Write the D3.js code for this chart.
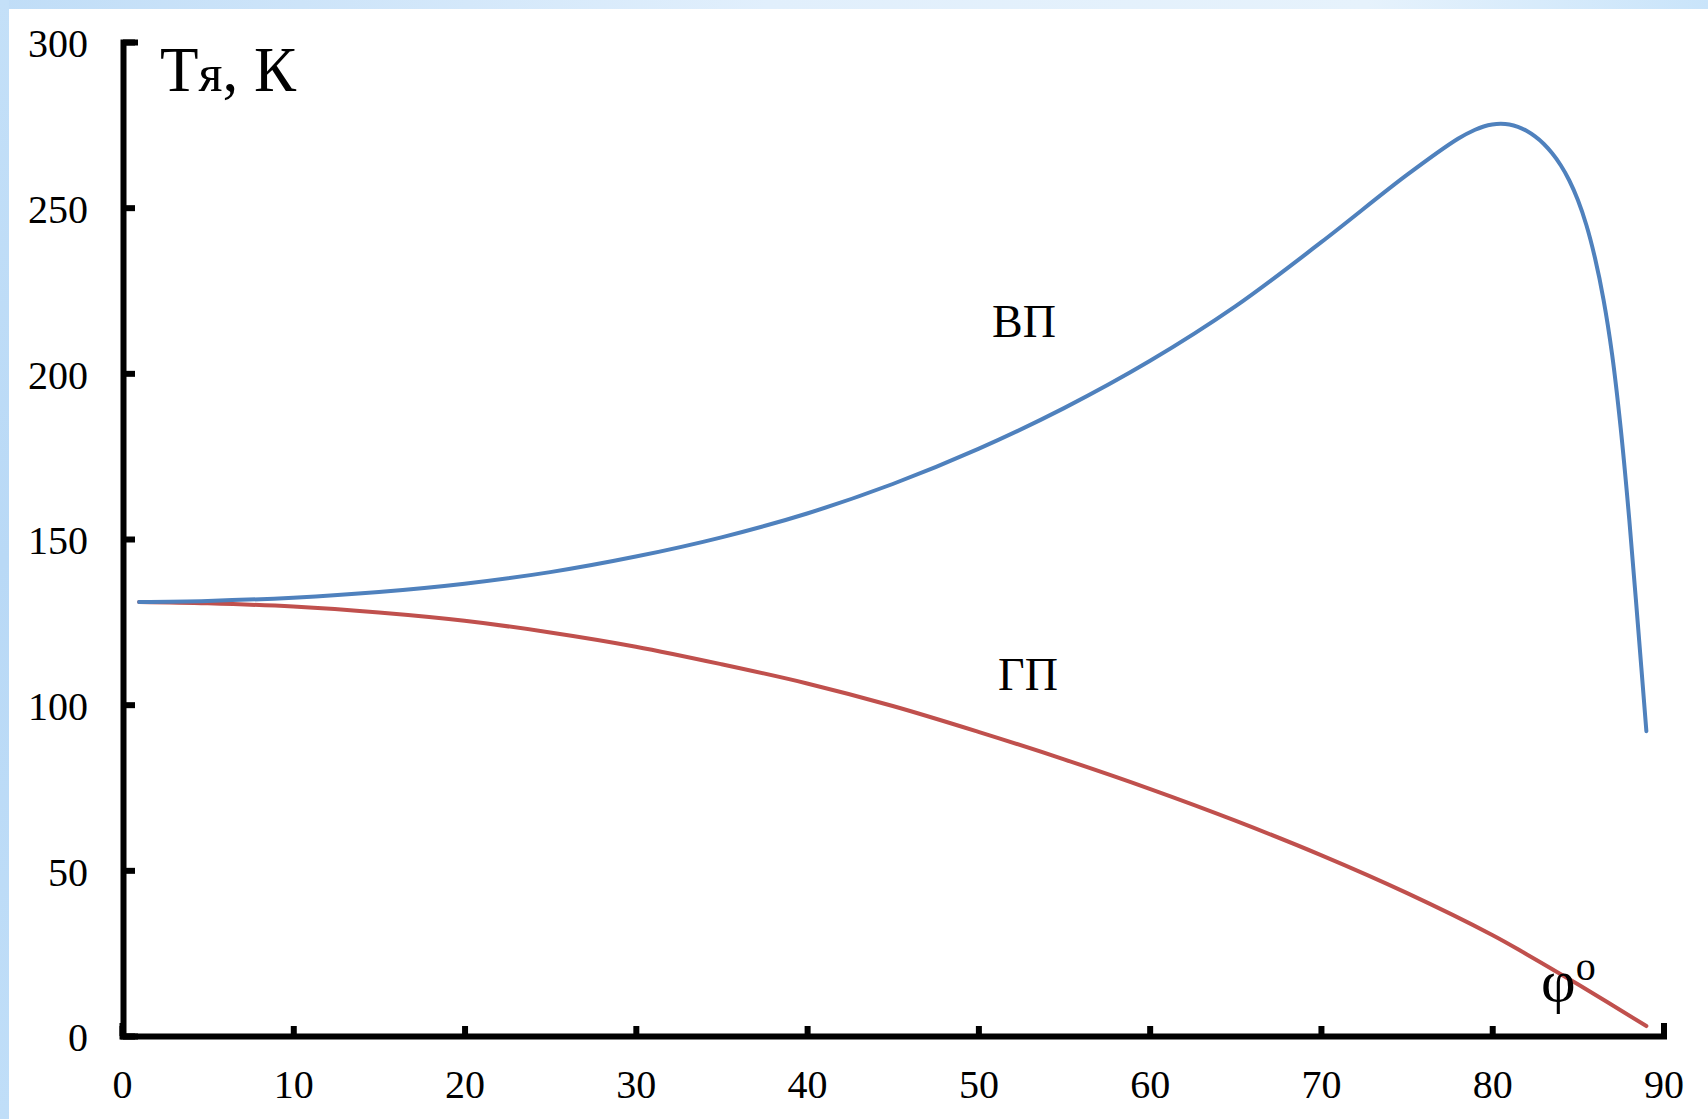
<!DOCTYPE html>
<html>
<head>
<meta charset="utf-8">
<script src="https://cdn.jsdelivr.net/npm/d3@7/dist/d3.min.js"></script>
<style>
  html, body { margin: 0; padding: 0; background: #ffffff; }
  svg { display: block; }
</style>
</head>
<body>
<script>
// Angle φ (degrees) and the two temperature curves Тя (K)
const anglesVP = [1, 5, 10, 15, 20, 25, 30, 35, 40, 45, 50, 55, 60, 65, 70, 75, 78, 79, 79.5, 80, 80.5, 81, 81.5, 82, 82.5, 83, 83.5, 84, 84.5, 85, 85.5, 86, 86.5, 87, 87.5, 88, 88.5, 89];
const tempVP   = [131, 131.3, 132.3, 134, 136.5, 140, 144.7, 150.5, 157.7, 166.6, 177.2, 189.5, 203.7, 220.2, 239.5, 259.8, 270.8, 273.5, 274.5, 275.1, 275.3, 275.1, 274.4, 273.2, 271.5, 269.3, 266.4, 262.8, 258.2, 252.3, 244.7, 234.8, 222.2, 205.7, 183.5, 156, 124.5, 92];

const anglesGP = [1, 5, 10, 15, 20, 25, 30, 35, 40, 45, 50, 55, 60, 65, 70, 75, 80, 82, 85, 89];
const tempGP   = [131, 130.6, 129.6, 127.8, 125.3, 121.8, 117.5, 112.2, 106.4, 99.6, 91.8, 83.5, 74.6, 65, 54.6, 43.2, 30.5, 24.7, 15.6, 3];

const xTicks = [0, 10, 20, 30, 40, 50, 60, 70, 80, 90];
const yTicks = [0, 50, 100, 150, 200, 250, 300];

const W = 1708, H = 1119;
const FONT = "'Liberation Serif', 'Times New Roman', serif";

const svg = d3.select("body").append("svg")
  .attr("width", W).attr("height", H);

// light blue frame along the top and left edges
const defs = svg.append("defs");
const gTop = defs.append("linearGradient").attr("id", "frameTop")
  .attr("x1", "0%").attr("x2", "100%").attr("y1", "0%").attr("y2", "0%");
gTop.append("stop").attr("offset", "0%").attr("stop-color", "#c0ddf7");
gTop.append("stop").attr("offset", "45%").attr("stop-color", "#e1effc");
gTop.append("stop").attr("offset", "80%").attr("stop-color", "#e6f2fc");
gTop.append("stop").attr("offset", "100%").attr("stop-color", "#c9e4fa");
const gLeft = defs.append("linearGradient").attr("id", "frameLeft")
  .attr("x1", "0%").attr("x2", "0%").attr("y1", "0%").attr("y2", "100%");
gLeft.append("stop").attr("offset", "0%").attr("stop-color", "#c4e0f8");
gLeft.append("stop").attr("offset", "50%").attr("stop-color", "#b9d9f6");
gLeft.append("stop").attr("offset", "100%").attr("stop-color", "#c0def8");

svg.append("rect").attr("x", 0).attr("y", 0).attr("width", W).attr("height", 9)
  .attr("fill", "url(#frameTop)");
svg.append("rect").attr("x", 0).attr("y", 0).attr("width", 9).attr("height", H)
  .attr("fill", "url(#frameLeft)");

const x = d3.scaleLinear().domain([0, 90]).range([122, 1663.5]);
const y = d3.scaleLinear().domain([0, 300]).range([1036, 42]);

// axes with inward ticks
const xAxis = d3.axisBottom(x).tickValues(xTicks).tickFormat(d3.format("d"))
  .tickSizeInner(-10).tickSizeOuter(-10).tickPadding(34);
const yAxis = d3.axisLeft(y).tickValues(yTicks).tickFormat(d3.format("d"))
  .tickSizeInner(-12).tickSizeOuter(-12).tickPadding(35);

function styleAxis(g) {
  g.select(".domain").attr("stroke", "#000").attr("stroke-width", 6)
    .attr("stroke-linecap", "square");
  g.selectAll(".tick line").attr("stroke", "#000").attr("stroke-width", 6);
  g.selectAll(".tick text").attr("fill", "#000")
    .style("font-family", FONT).style("font-size", "40px");
}

const gx = svg.append("g").attr("transform", `translate(0,${y(0)})`).call(xAxis);
styleAxis(gx);
gx.selectAll(".tick text").attr("dy", "0.71em");

const gy = svg.append("g").attr("transform", `translate(${x(0) + 1},0)`).call(yAxis);
styleAxis(gy);
gy.selectAll(".tick text").attr("dy", "0.37em");

// curves
const line = d3.line()
  .x(d => x(d[0]))
  .y(d => y(d[1]))
  .curve(d3.curveCatmullRom.alpha(0.5));

const vp = anglesVP.map((a, i) => [a, tempVP[i]]);
const gp = anglesGP.map((a, i) => [a, tempGP[i]]);

svg.append("path").datum(gp)
  .attr("d", line)
  .attr("fill", "none")
  .attr("stroke", "#c0504d")
  .attr("stroke-width", 4)
  .attr("stroke-linecap", "round");

svg.append("path").datum(vp)
  .attr("d", line)
  .attr("fill", "none")
  .attr("stroke", "#4f81bd")
  .attr("stroke-width", 4)
  .attr("stroke-linecap", "round");

// axis titles
const yTitle = svg.append("text")
  .attr("x", 160).attr("y", 91)
  .style("font-family", FONT).attr("fill", "#000");
yTitle.append("tspan").style("font-size", "63px").text("Т");
yTitle.append("tspan").style("font-size", "52px").text("я");
yTitle.append("tspan").style("font-size", "63px").text(", К");

const xTitle = svg.append("text")
  .attr("x", 1541).attr("y", 1001)
  .style("font-family", FONT).attr("fill", "#000");
xTitle.append("tspan").style("font-size", "60px").text("φ");
xTitle.append("tspan").style("font-size", "40px").attr("dy", -21).text("o");

// curve labels
svg.append("text")
  .attr("x", 1024).attr("y", 337)
  .attr("text-anchor", "middle")
  .style("font-family", FONT).style("font-size", "46px").attr("fill", "#000")
  .text("ВП");

svg.append("text")
  .attr("x", 1028).attr("y", 690)
  .attr("text-anchor", "middle")
  .style("font-family", FONT).style("font-size", "46px").attr("fill", "#000")
  .text("ГП");
</script>
</body>
</html>
